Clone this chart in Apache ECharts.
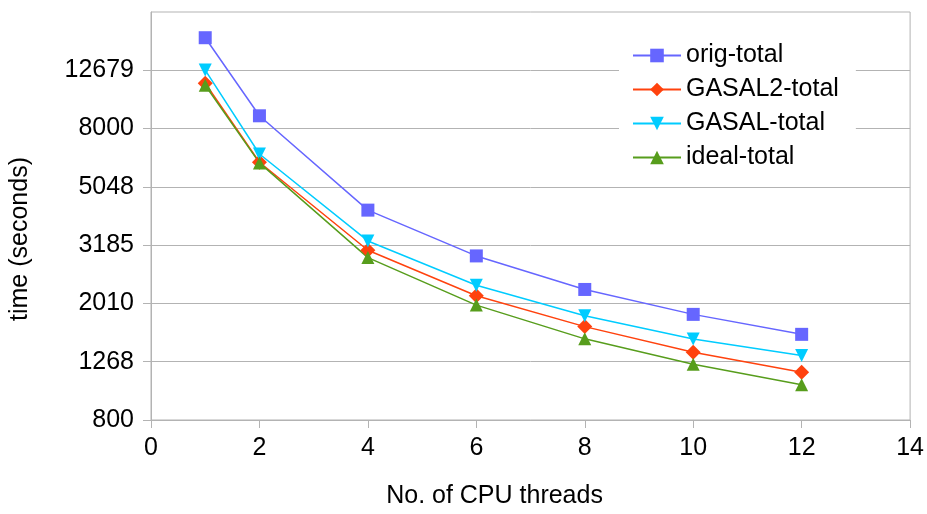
<!DOCTYPE html>
<html>
<head>
<meta charset="utf-8">
<script src="https://cdn.jsdelivr.net/npm/echarts@6/dist/echarts.min.js"></script>
<style>
html,body{margin:0;padding:0;background:#fff;}
#chart{width:927px;height:514px;}
</style>
</head>
<body>
<div id="chart"></div>
<script>
const threads = [1, 2, 4, 6, 8, 10, 12];
const origTotal = [16400, 8850, 4200, 2925, 2244, 1843, 1574];
const gasal2Total = [11450, 6130, 3058, 2135, 1673, 1366, 1167];
const gasalTotal = [12700, 6544, 3292, 2321, 1824, 1517, 1331];
const idealTotal = [11270, 6100, 2886, 1983, 1519, 1243, 1056];
const yTicks = [800, 1268, 2010, 3185, 5048, 8000, 12679];
const xTicks = [0, 2, 4, 6, 8, 10, 12, 14];

const FONT = 'Liberation Sans';
const FS = 25;
const GRIDC = '#b3b3b3';

function pairs(vals) { return threads.map((t, i) => [t, vals[i]]); }

const seriesDefs = [
  { name: 'orig-total', data: origTotal, color: '#6666ff', symbol: 'rect', size: 13, rotate: 0 },
  { name: 'GASAL2-total', data: gasal2Total, color: '#ff420e', symbol: 'diamond', size: 15, rotate: 0 },
  { name: 'GASAL-total', data: gasalTotal, color: '#00ccff', symbol: 'triangle', size: 13, rotate: 180 },
  { name: 'ideal-total', data: idealTotal, color: '#579d1c', symbol: 'triangle', size: 13, rotate: 0 }
];

const chart = echarts.init(document.getElementById('chart'), null, { renderer: 'canvas' });
chart.setOption({
  animation: false,
  backgroundColor: '#fff',
  textStyle: { fontFamily: FONT },
  grid: { left: 150, right: 16, top: 12, bottom: 92, show: true, borderColor: GRIDC, borderWidth: 1, backgroundColor: 'transparent' },
  legend: {
    orient: 'vertical',
    left: 619,
    top: 36,
    backgroundColor: '#fff',
    padding: [7, 17, 7, 13],
    itemWidth: 48,
    itemHeight: 17,
    itemGap: 9,
    textStyle: { fontFamily: FONT, fontSize: FS, color: '#000', lineHeight: 24 },
    data: seriesDefs.map(s => s.name)
  },
  xAxis: {
    type: 'value',
    min: 0, max: 14, interval: 2,
    name: 'No. of CPU threads',
    nameLocation: 'middle',
    nameGap: 64,
    nameTextStyle: { fontFamily: FONT, fontSize: FS, color: '#000', padding: [0, 72, 0, 0] },
    axisLine: { show: true, lineStyle: { color: GRIDC, width: 1 } },
    axisTick: { show: true, length: 8, lineStyle: { color: GRIDC }, customValues: xTicks },
    axisLabel: { fontFamily: FONT, fontSize: FS, color: '#000', margin: 16, customValues: xTicks },
    splitLine: { show: false }
  },
  yAxis: {
    type: 'log',
    logBase: 10,
    min: 800, max: 20095,
    name: 'time (seconds)',
    nameLocation: 'middle',
    nameGap: 118,
    nameRotate: 90,
    nameTextStyle: { fontFamily: FONT, fontSize: FS, color: '#000', padding: [0, 46, 0, 0] },
    axisLine: { show: true, lineStyle: { color: GRIDC, width: 1 } },
    axisTick: { show: true, length: 8, lineStyle: { color: GRIDC }, customValues: yTicks },
    axisLabel: { fontFamily: FONT, fontSize: FS, color: '#000', margin: 17, customValues: yTicks, formatter: v => String(Math.round(v)) },
    splitLine: { show: true, lineStyle: { color: GRIDC, width: 1 } }
  },
  series: seriesDefs.map(s => ({
    name: s.name,
    type: 'line',
    data: pairs(s.data),
    symbol: s.symbol,
    symbolSize: s.size,
    symbolRotate: s.rotate,
    showAllSymbol: true,
    lineStyle: { color: s.color, width: 1.5 },
    itemStyle: { color: s.color, borderWidth: 0 },
    emphasis: { disabled: true }
  }))
});
</script>
</body>
</html>
